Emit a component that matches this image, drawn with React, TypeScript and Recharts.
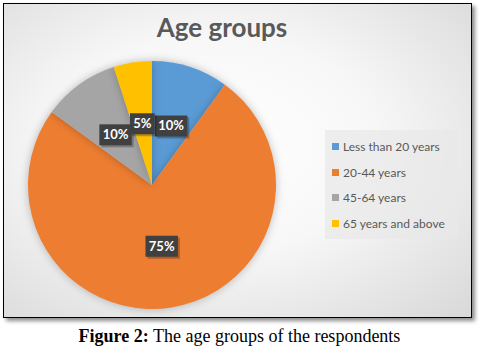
import React from 'react';
import { PieChart, Pie, Cell, Legend } from 'recharts';

const groups = ['Less than 20 years', '20-44 years', '45-64 years', '65 years and above'];
const shares = [10, 75, 10, 5];
const colors = ['#5B9BD5', '#ED7D31', '#A5A5A5', '#FFC000'];

const data = groups.map((name, i) => ({ name, value: shares[i] }));

const RADIAN = Math.PI / 180;

interface LabelProps { cx: number; cy: number; midAngle: number; outerRadius: number; value: number; }

function BoxLabel({ cx, cy, midAngle, outerRadius, value }: LabelProps) {
  const r = outerRadius * 0.5;
  const x = cx + r * Math.cos(-midAngle * RADIAN);
  const y = cy + r * Math.sin(-midAngle * RADIAN);
  const text = `${value}%`;
  const w = 9 + text.length * 7.8;
  const h = 21;
  return (
    <g>
      <rect x={x - w / 2 + 2} y={y - h / 2 + 2} width={w} height={h} fill="rgba(0,0,0,0.25)" />
      <rect x={x - w / 2} y={y - h / 2} width={w} height={h} fill="#404040" />
      <text x={x} y={y + 1} fill="#fff" fontSize={13} fontWeight="bold" fontFamily="Lato, 'Open Sans', sans-serif" textAnchor="middle" dominantBaseline="middle">
        {text}
      </text>
    </g>
  );
}

function LegendBox() {
  return (
    <div style={{ background: 'rgba(232,232,232,0.7)', padding: '4px 6px 3px 7px', width: 120 }}>
      {groups.map((g, i) => (
        <div key={g} style={{ display: 'flex', alignItems: 'center', height: 25.5, fontSize: 12, color: '#595959', fontFamily: "Lato, 'Open Sans', sans-serif" }}>
          <span style={{ display: 'inline-block', width: 7, height: 7, background: colors[i], marginRight: 4 }} />
          {g}
        </div>
      ))}
    </div>
  );
}

export default function App() {
  return (
    <div style={{ position: 'absolute', left: 0, top: 0, width: 479, height: 357, background: '#fff' }}>
      <div style={{
        position: 'absolute', left: 3, top: 3, width: 467, height: 313,
        border: '1px solid #000',
        boxShadow: '3px 3px 4px rgba(0,0,0,0.45)',
        background: 'radial-gradient(ellipse at 45% 45%, #ffffff 0%, #f7f7f7 45%, #d8d8d8 100%)',
      }}>
        <div style={{ position: 'absolute', left: 118, width: 200, top: 7, textAlign: 'center', fontFamily: "Lato, 'Open Sans', sans-serif", fontWeight: 'bold', fontSize: 26, color: '#595959' }}>
          Age groups
        </div>
        <PieChart width={467} height={313} margin={{ top: 0, right: 0, bottom: 0, left: 0 }}>
          <Pie
            data={data}
            dataKey="value"
            nameKey="name"
            cx={148}
            cy={181}
            outerRadius={124}
            startAngle={90}
            endAngle={-270}
            stroke="none"
            labelLine={false}
            label={BoxLabel}
            isAnimationActive={false}
            style={{ filter: 'drop-shadow(0px 0px 4px rgba(0,0,0,0.25))' }}
          >
            {data.map((d, i) => <Cell key={d.name} fill={colors[i]} />)}
          </Pie>
          <Legend layout="vertical" align="right" verticalAlign="top" content={<LegendBox />} wrapperStyle={{ left: 321, top: 126, width: 133 }} />
        </PieChart>
      </div>
      <div style={{ position: 'absolute', left: 0, width: 479, top: 326, textAlign: 'center', fontFamily: "'Liberation Serif', 'Times New Roman', serif", fontSize: 18, color: '#000' }}>
        <b>Figure 2:</b> The age groups of the respondents
      </div>
    </div>
  );
}
